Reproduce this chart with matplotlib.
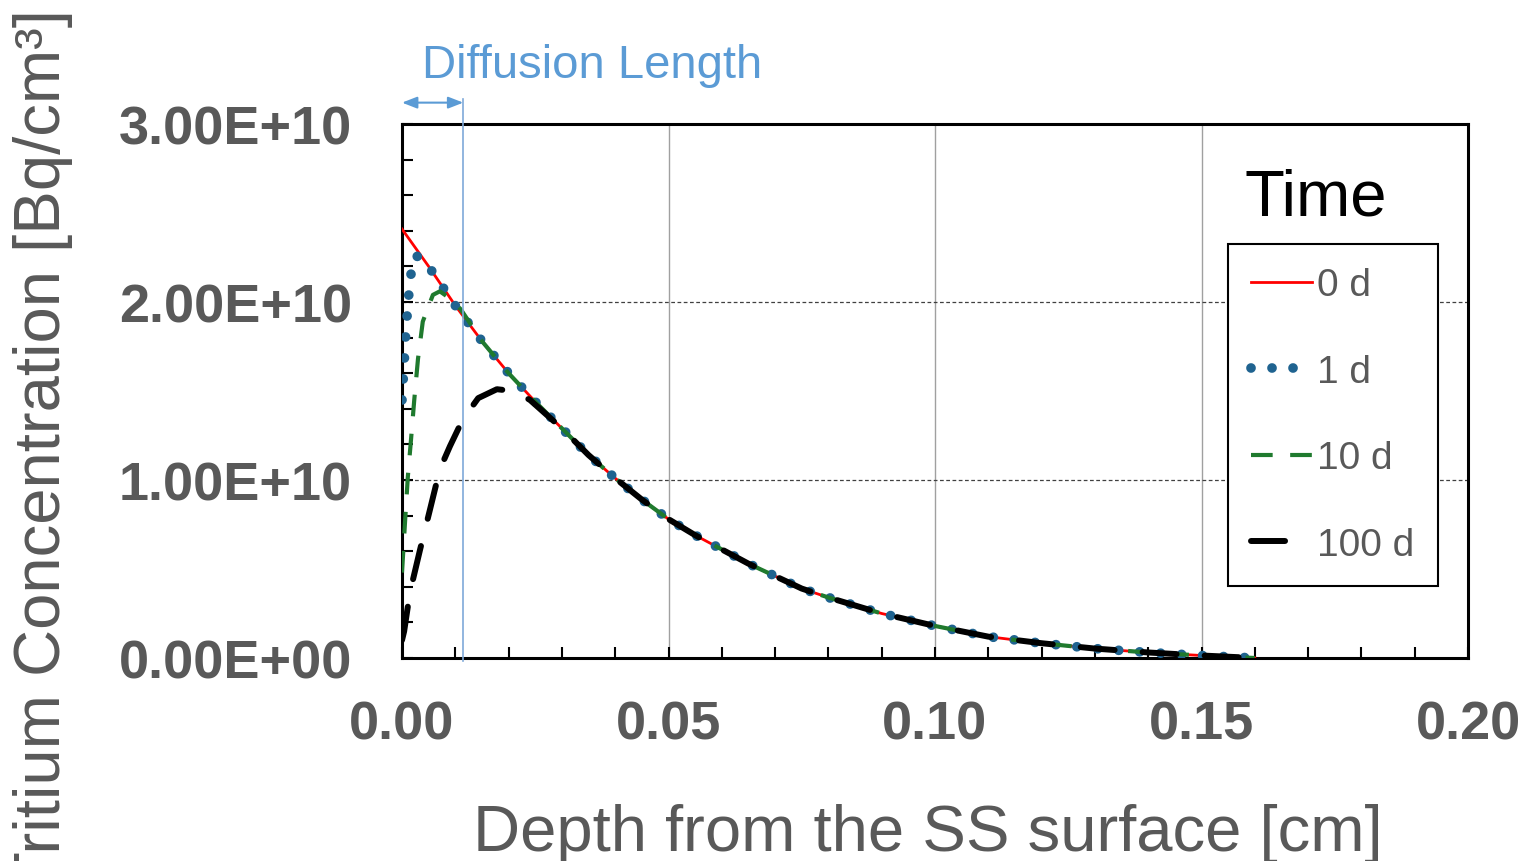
import matplotlib
matplotlib.use("Agg")
import matplotlib.pyplot as plt
from matplotlib.ticker import MultipleLocator, FuncFormatter
from matplotlib.lines import Line2D

plt.rcParams['font.family'] = ['Liberation Sans', 'DejaVu Sans']

# ---------------- data (concentration in 1e10 Bq/cm3) ----------------
depth_0d = [0, 0.005, 0.01, 0.015, 0.02, 0.025, 0.03, 0.035, 0.04, 0.045, 0.05,
            0.055, 0.06, 0.065, 0.07, 0.075, 0.08, 0.09, 0.10, 0.11, 0.12, 0.13,
            0.14, 0.15, 0.16]
conc_0d = [2.41, 2.20, 1.98, 1.78, 1.60, 1.44, 1.29, 1.14, 1.01, 0.89, 0.78,
           0.69, 0.61, 0.53, 0.46, 0.39, 0.34, 0.25, 0.18, 0.12, 0.083, 0.053,
           0.031, 0.014, 0.0]

depth_1d = [0, 0.0004, 0.0007, 0.001, 0.0013, 0.0017, 0.0025, 0.0035, 0.005,
            0.01, 0.015, 0.02, 0.025, 0.03, 0.035, 0.04, 0.045, 0.05, 0.055, 0.06,
            0.065, 0.07, 0.075, 0.08, 0.09, 0.10, 0.11, 0.12, 0.13, 0.14, 0.15, 0.16]
conc_1d = [1.45, 1.65, 1.82, 1.94, 2.05, 2.16, 2.26, 2.25, 2.20,
           1.98, 1.78, 1.60, 1.44, 1.29, 1.14, 1.01, 0.89, 0.78, 0.69, 0.61,
           0.53, 0.46, 0.39, 0.34, 0.25, 0.18, 0.12, 0.083, 0.053, 0.031, 0.014, 0.0]

depth_10d = [0, 0.0006, 0.0011, 0.0017, 0.0023, 0.003, 0.0039, 0.0058, 0.0071,
             0.009, 0.011, 0.015, 0.02, 0.025, 0.03, 0.035, 0.04, 0.045, 0.05,
             0.055, 0.06, 0.065, 0.07, 0.075, 0.08, 0.09, 0.10, 0.11, 0.12, 0.13,
             0.14, 0.15, 0.16]
conc_10d = [0.48, 0.78, 1.02, 1.23, 1.45, 1.68, 1.89, 2.04, 2.06,
            2.02, 1.96, 1.78, 1.60, 1.44, 1.29, 1.14, 1.01, 0.89, 0.78,
            0.69, 0.61, 0.53, 0.46, 0.39, 0.34, 0.25, 0.18, 0.12, 0.083, 0.053,
            0.031, 0.014, 0.0]

depth_100d = [0, 0.0004, 0.0015, 0.0034, 0.0053, 0.0071, 0.009, 0.0114, 0.0143,
              0.0178, 0.0208, 0.024, 0.03, 0.035, 0.04, 0.045, 0.05, 0.055, 0.06,
              0.065, 0.07, 0.075, 0.08, 0.09, 0.10, 0.11, 0.12, 0.13, 0.14, 0.15,
              0.158]
conc_100d = [0.10, 0.15, 0.37, 0.61, 0.84, 1.06, 1.19, 1.34, 1.46,
             1.51, 1.50, 1.45, 1.29, 1.14, 1.01, 0.89, 0.78, 0.69, 0.61,
             0.53, 0.46, 0.39, 0.34, 0.25, 0.18, 0.12, 0.083, 0.053, 0.031, 0.014,
             0.003]

scale = 1e10
series_labels = ['0 d', '1 d', '10 d', '100 d']
x_ticks = [0.00, 0.05, 0.10, 0.15, 0.20]
y_ticks = [0, 1e10, 2e10, 3e10]
diffusion_length = 0.0115

# ---------------- figure ----------------
W, H = 1521, 862
fig = plt.figure(figsize=(W / 100, H / 100), dpi=100)
ax = fig.add_axes([402 / W, (H - 659) / H, (1468 - 402) / W, (659 - 125) / H])

red_kw = dict(color='#ff0000', lw=2.0, zorder=3)
blue_kw = dict(color='#1f6390', lw=7.0, linestyle=(0, (0.001, 2.16)),
               dash_capstyle='round', zorder=4)
green_kw = dict(color='#1f7a2e', lw=3.0, linestyle=(0, (5.2, 4.2)),
                dash_capstyle='butt', zorder=5)
black_kw = dict(color='#000000', lw=4.3, linestyle=(0, (5.7, 4.7)),
                dash_capstyle='round', zorder=6)

ax.plot(depth_0d, [v * scale for v in conc_0d], **red_kw)
ax.plot(depth_1d, [v * scale for v in conc_1d], **blue_kw)
ax.plot(depth_10d, [v * scale for v in conc_10d], **green_kw)
ax.plot(depth_100d, [v * scale for v in conc_100d], **black_kw)

ax.set_xlim(0, 0.20)
ax.set_ylim(0, 3e10)
ax.set_xticks(x_ticks)
ax.set_yticks(y_ticks)
ax.xaxis.set_minor_locator(MultipleLocator(0.01))
ax.yaxis.set_minor_locator(MultipleLocator(0.2e10))
ax.xaxis.set_major_formatter(FuncFormatter(lambda v, p: f'{v:.2f}'))
ax.yaxis.set_major_formatter(FuncFormatter(lambda v, p: f'{v:.2E}'))

for s in ax.spines.values():
    s.set_linewidth(2.2)
    s.set_color('black')

ax.tick_params(which='both', direction='in', length=8, width=1.5, color='black')
ax.tick_params(axis='x', which='major', pad=30, labelsize=39, labelcolor='#595959')
ax.tick_params(axis='y', which='major', pad=36, labelsize=39, labelcolor='#595959')
for lab in ax.get_xticklabels() + ax.get_yticklabels():
    lab.set_fontweight('bold')

ax.xaxis.grid(True, which='major', color='#a0a0a0', lw=1.0, linestyle='-')
ax.yaxis.grid(True, which='major', color='#404040', lw=0.9, linestyle=(0, (3, 2)))
ax.set_axisbelow(True)

# legend
handles = [Line2D([], [], **red_kw), Line2D([], [], **blue_kw),
           Line2D([], [], **green_kw), Line2D([], [], **black_kw)]
leg = ax.legend(handles, series_labels, loc='upper right',
                bbox_to_anchor=((1438 - 402) / 1066, (659 - 245) / 534),
                borderaxespad=0, fontsize=28, handlelength=1.56,
                handletextpad=0.15, labelspacing=1.3, borderpad=0.6,
                fancybox=False, framealpha=1, edgecolor='black')
leg.get_frame().set_linewidth(1.5)
for t in leg.get_texts():
    t.set_color('#595959')
leg.set_zorder(10)

ax.text((1245 - 402) / 1066, (659 - 198) / 534, 'Time', transform=ax.transAxes,
        fontsize=47, color='black', ha='left', va='center')

# diffusion length annotation
dl_color = '#5b9bd5'
ax.plot([diffusion_length, diffusion_length], [-0.017e10, 3.14e10],
        color='#7fa9d9', lw=1.2, clip_on=False, zorder=7)
ax.annotate('', xy=(0, 3.12e10), xytext=(diffusion_length, 3.12e10),
            xycoords='data', textcoords='data', annotation_clip=False,
            arrowprops=dict(arrowstyle='<|-|>,head_length=0.9,head_width=0.35',
                            color=dl_color, lw=1.5, shrinkA=0, shrinkB=0))
fig.text(422 / W, (H - 66) / H, 'Diffusion Length', fontsize=34,
         color=dl_color, ha='left', va='center')

# axis titles
fig.text(928 / W, (H - 851) / H, 'Depth from the SS surface [cm]', fontsize=47,
         color='#595959', ha='center', va='baseline')
fig.text(43 / W, (H - 450) / H, 'Tritium Concentration [Bq/cm³]', fontsize=47,
         color='#595959', ha='center', va='center', rotation=90)

fig.savefig('out.png', dpi=100)
